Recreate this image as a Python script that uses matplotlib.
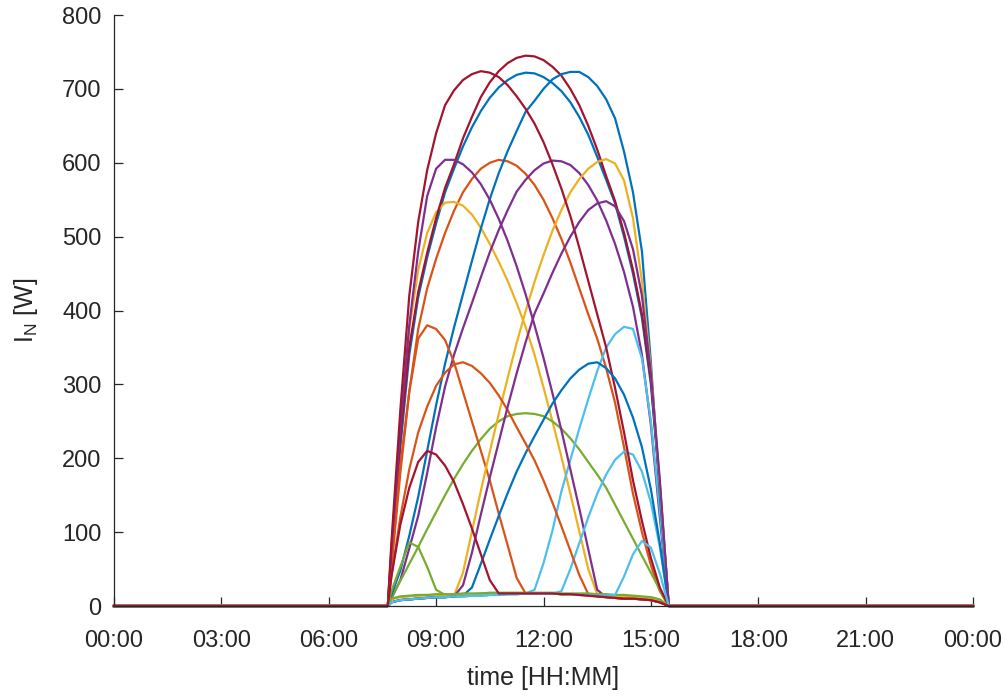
import numpy as np
import matplotlib
matplotlib.use('Agg')
import matplotlib.pyplot as plt

plt.rcParams['font.family'] = ['Liberation Sans', 'DejaVu Sans']
plt.rcParams['mathtext.fontset'] = 'custom'
plt.rcParams['mathtext.rm'] = 'Liberation Sans'
plt.rcParams['mathtext.it'] = 'Liberation Sans'

# time of day in hours: midnight, sunrise, daytime samples, midnight
hours = [0, 7.65, 7.75, 8.0, 8.25, 8.5, 8.75, 9.0, 9.25, 9.5, 9.75, 10.0,
         10.25, 10.5, 10.75, 11.0, 11.25, 11.5, 11.75, 12.0, 12.25, 12.5,
         12.75, 13.0, 13.25, 13.5, 13.75, 14.0, 14.25, 14.5, 14.75, 15.0,
         15.25, 15.5, 24]

# daytime irradiance [W], samples from 07:45 to 15:30
b_mid = [65, 215, 340, 418, 472, 518, 560, 592, 622, 648, 670, 688, 702, 712, 719, 722,
         721, 716, 708, 697, 682, 662, 638, 608, 577, 545, 500, 450, 390, 300, 160, 0]
o_mid = [50, 180, 290, 375, 430, 470, 505, 535, 560, 578, 592, 600, 604, 602, 596, 585,
         570, 550, 525, 497, 465, 430, 395, 362, 322, 275, 215, 152, 100, 55, 20, 0]
y_east = [80, 240, 375, 455, 505, 533, 546, 547, 542, 530, 512, 490, 466, 440, 410, 378,
          340, 296, 250, 202, 152, 101, 50, 16, 12, 11, 10, 10, 9, 8, 5, 0]
p_mid = [10, 35, 78, 122, 180, 242, 297, 340, 376, 410, 445, 479, 509, 536, 561, 577,
         590, 599, 603, 602, 597, 586, 570, 549, 522, 490, 452, 405, 340, 245, 120, 0]
g_mid = [12, 34, 57, 80, 104, 127, 150, 172, 192, 210, 226, 240, 250, 257, 260, 261,
         260, 257, 250, 240, 227, 212, 195, 178, 160, 137, 114, 91, 68, 45, 22, 0]
c_380 = [5, 8, 9, 10, 11, 12, 12, 13, 13, 14, 14, 15, 15, 16, 16, 17,
         22, 58, 102, 155, 198, 240, 280, 318, 350, 368, 378, 375, 335, 250, 130, 0]
r_mid = [70, 225, 350, 425, 478, 525, 566, 598, 633, 662, 689, 709, 724, 735, 742, 745,
         744, 739, 730, 718, 700, 678, 650, 618, 582, 548, 505, 455, 395, 305, 165, 0]
b_west = [15, 48, 95, 148, 210, 272, 328, 377, 422, 467, 511, 551, 586, 616, 643, 669,
          684, 700, 713, 720, 723, 723, 716, 704, 686, 660, 615, 560, 480, 330, 150, 0]
o_380 = [60, 190, 290, 362, 380, 375, 360, 330, 290, 250, 210, 170, 125, 82, 38, 17,
         17, 17, 17, 16, 16, 15, 14, 13, 12, 11, 10, 10, 9, 8, 5, 0]
y_west = [5, 8, 9, 10, 11, 12, 12, 14, 45, 101, 156, 209, 260, 309, 356, 399,
          439, 475, 508, 536, 560, 578, 592, 601, 605, 599, 576, 525, 440, 320, 165, 0]
p_east = [75, 240, 380, 480, 555, 592, 604, 604, 598, 587, 571, 550, 524, 494, 460, 422,
          380, 336, 288, 238, 185, 132, 77, 22, 12, 11, 10, 10, 9, 8, 5, 0]
g_88 = [20, 53, 86, 80, 53, 22, 15, 15, 16, 16, 17, 17, 17, 17, 17, 17,
        17, 17, 17, 16, 16, 15, 15, 14, 14, 13, 13, 12, 11, 10, 7, 0]
c_210 = [5, 8, 9, 10, 11, 12, 12, 13, 13, 14, 14, 15, 15, 16, 16, 17,
         17, 17, 17, 20, 50, 85, 120, 152, 178, 198, 209, 205, 182, 140, 80, 0]
r_east = [85, 265, 420, 520, 590, 640, 678, 698, 712, 720, 724, 722, 716, 705, 690, 673,
          653, 628, 598, 565, 528, 485, 440, 395, 350, 295, 235, 170, 115, 65, 25, 0]
b_332 = [5, 8, 9, 10, 11, 12, 12, 13, 14, 25, 57, 90, 122, 153, 182, 207,
         230, 252, 274, 292, 308, 320, 328, 330, 322, 308, 286, 255, 215, 158, 85, 0]
o_332 = [40, 120, 185, 235, 270, 298, 316, 327, 330, 325, 315, 302, 285, 265, 242, 220,
         197, 170, 140, 108, 75, 42, 16, 13, 12, 11, 10, 10, 9, 8, 5, 0]
y_flat = [9, 12, 13, 14, 14, 15, 15, 15, 16, 16, 16, 17, 17, 17, 17, 17,
          17, 17, 17, 16, 16, 16, 16, 15, 14, 14, 13, 13, 12, 11, 8, 0]
p_west = [5, 8, 9, 10, 11, 12, 12, 13, 28, 72, 124, 174, 222, 270, 315, 357,
          396, 423, 451, 477, 500, 520, 536, 545, 548, 541, 521, 483, 420, 315, 170, 0]
g_flat = [10, 13, 14, 15, 15, 16, 16, 16, 17, 17, 17, 18, 18, 18, 18, 18,
          18, 18, 18, 17, 17, 17, 17, 16, 16, 15, 15, 14, 13, 12, 9, 0]
c_88 = [5, 8, 9, 10, 11, 12, 12, 13, 13, 14, 14, 15, 15, 16, 16, 17,
        17, 17, 17, 16, 16, 15, 15, 14, 14, 15, 40, 70, 88, 79, 44, 0]
r_210 = [40, 110, 160, 195, 210, 205, 190, 168, 138, 105, 70, 35, 17, 17, 17, 17,
         17, 17, 17, 16, 16, 15, 14, 13, 12, 11, 10, 10, 9, 8, 5, 0]

series = [b_mid, o_mid, y_east, p_mid, g_mid, c_380, r_mid,
          b_west, o_380, y_west, p_east, g_88, c_210, r_east,
          b_332, o_332, y_flat, p_west, g_flat, c_88, r_210]

# MATLAB default colour order
colors = ['#0072BD', '#D95319', '#EDB120', '#7E2F8E', '#77AC30', '#4DBEEE', '#A2142F']

tick_hours = [0, 3, 6, 9, 12, 15, 18, 21, 24]
tick_labels = ['00:00', '03:00', '06:00', '09:00', '12:00', '15:00', '18:00', '21:00', '00:00']

fig = plt.figure(figsize=(10.05, 6.96), dpi=100)
ax = fig.add_axes([0.1134, 0.1293, 0.8548, 0.8491])

for i, vals in enumerate(series):
    full = [0, 0] + vals + [0]
    ax.plot(hours, full, color=colors[i % 7], lw=1.6, clip_on=False)

ax.set_xlim(0, 24)
ax.set_ylim(0, 800)
ax.set_xticks(tick_hours)
ax.set_xticklabels(tick_labels)
ax.set_yticks(range(0, 801, 100))

axcol = '#262626'
for side in ['top', 'right']:
    ax.spines[side].set_visible(False)
for side in ['left', 'bottom']:
    ax.spines[side].set_color(axcol)
    ax.spines[side].set_linewidth(0.9)
ax.tick_params(direction='in', length=6.5, width=0.9, colors=axcol,
               labelsize=17, pad=9)
ax.tick_params(axis='x', pad=17)

ax.set_xlabel('time [HH:MM]', fontsize=18, color=axcol, labelpad=10)
ax.set_ylabel(r'I$_\mathrm{N}$ [W]', fontsize=18, color=axcol, labelpad=16)

fig.savefig('out.png', dpi=100)
